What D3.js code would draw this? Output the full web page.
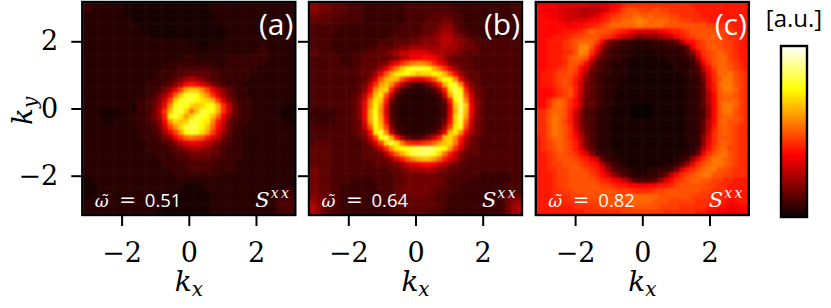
<!DOCTYPE html>
<html lang="en">
<head>
<meta charset="UTF-8">
<title>Sxx maps</title>
<script src="https://d3js.org/d3.v7.min.js"></script>
<style>
    body { margin: 0; background: #fff; overflow: hidden; }
    .axis text { font-family: "DejaVu Serif", serif; font-size: 27px; fill: #000; }
    .axis line { stroke: #000; stroke-width: 2px; }
    .math { font-family: "DejaVu Serif", serif; font-style: italic; }
    .plain { font-family: "DejaVu Serif", serif; }
    .sans { font-family: "Open Sans", sans-serif; }
</style>
</head>
<body>
<div id="chart"></div>
<script>
// heat levels, one base-36 digit per cell (0 = black, z = white)
const panelA = [
"3322222211 1111111111 1111222222 2222222222",
"3322222211 1111111111 1111222222 2222222222",
"2222222211 1111111111 1111122222 2222222222",
"2222222221 1111111111 1111122222 2222222222",
"2222222222 1111111111 1111112222 2222222222",
"2222222222 2111111111 1111111222 2222222222",
"2222222222 2221111111 1111111222 2222222222",
"2222222222 2222222222 1111112222 2222222222",
"2222222222 2222222222 2211222222 2223322222",
"2222222222 2222222222 2222222222 2233322222",
"2222222222 2222222223 3222222333 3333322222",
"2222222222 2222223333 3333322333 3333222222",
"2222222222 2222233344 4444333333 3332222222",
"2222222222 2222333445 5555443333 3322222222",
"2222222222 2223334568 9875443333 3222222222",
"2222222222 223334579d edb9754333 2222222222",
"2222222222 2233468cgm nnkgc97543 3222222222",
"2222222222 233468cinr srnkfb8643 3222222222",
"2222222222 33457agors sqpomgb753 3322222221",
"2222222221 33458ckqsr onoqrmfa64 3322222211",
"2221111222 33469fnsso jnssqmfa64 3322222111",
"2221111222 33468eqspl ossqnic854 3322222111",
"2222112222 33457ckono ssqpkea643 3222222211",
"2222222222 33346agkos tsqnid9643 3222222222",
"2222222222 233458cglq srolgb8533 2222222222",
"2222222222 2333467cfi jiheb96433 2222222222",
"2222222222 223334579b ccb9865433 2222222222",
"2222222222 2233334567 8887654333 2222222222",
"2222222222 2223333445 6666554333 2222222222",
"2222222222 2222333344 5555444333 2222222222",
"2222222222 2222233334 4444433332 2222222222",
"2222222222 2222223333 4444333332 2222222222",
"2222222222 2222222333 3333332222 2222222222",
"1122222222 2222222222 2222222222 2222222222",
"1112222222 2222222221 1122222222 2222222222",
"1112222222 2222222211 1112222222 2222222233",
"1122222222 2222222211 1111222222 2222223344",
"2222222222 2222221111 1111222222 2222223444",
"2222222222 2222111111 1111222222 2222223444",
"2222222222 2222111111 1111222222 2222223444"
];
const panelB = [
"7766555444 3333333344 4444444333 3333333344",
"7766555444 3333333344 4444444433 3333333344",
"6655554444 3333333344 4445555443 3333333344",
"5555444444 3333333344 4455566443 3333333334",
"4444443333 3333333444 4555677543 3333333334",
"4444433333 3333334444 4556788654 3333333334",
"4444333333 3333344445 5667899765 4433333334",
"4444333333 3334445556 6777899876 5444444444",
"4444333333 3445556778 8888898876 6544444444",
"5544433344 4555678aab bba9988765 5544444444",
"4444443344 555556 79ac cddca86555 4444444444",
"4444443344 55567acfhj kkifca7655 5444444444",
"4444444445 5568bfjnqr srqmjfb865 5444444444",
"4444444445 568chmpqrp nooqpmhc86 5544444444",
"4444444444 57bhmnmhec bcehnqqkc7 5544444444",
"4444444445 6aflnke964 3469emrskb 7544444444",
"4444444445 7cknoe8432 22348eptqe 8654444444",
"4444444456 9fnpha4322 22234alssh a654444444",
"4444444457 bjpne63222 222236eqtk b754444444",
"4444444457 ckqlc43222 222234bntn c754444444",
"3333344457 cmrkb43222 222234bmum c754444444",
"3333344457 cmrlc43222 222234cotl b754444444",
"3333344456 blrmd53222 222236dosi a654444444",
"4444444456 ahqng73322 222348gprg 9654444444",
"4444444456 7dpska5322 22347cnpkc 8654444444",
"4444444445 6agqsld854 457aenoke9 6544444444",
"4555444444 57bgospjfe efgilnojd8 6544444444",
"5555444444 557aflpqrs ttutrqlfa7 5544444444",
"5555444444 55569eimps tutsojea75 5544444444",
"5555444444 555568behk mnnlieb965 4444444444",
"5555444444 4455566 8ab cddca97654 4444444444",
"6655444444 4444455678 8898765544 4444444444",
"6655444444 4444445566 6666555444 4433333344",
"6655444433 3344445566 6666654444 3333333344",
"6655443333 3334445566 6666554433 3333333444",
"6655443333 3334445666 6665544333 3333333444",
"7765443333 3334445556 6655443333 3333334566",
"8765443333 3333445555 5555443333 3333334678",
"9865443333 3333344555 5555443333 3333334689",
"9865443333 3333344445 5544433333 3333334689"
];
const panelC = [
"ccccbbbbbb aabbcdefff fffffffffe eeeeeeeeee",
"dcccbbaa99 99abdeghhg gghggfffff eeeeeeeeee",
"ddccbbaa99 abdefghhii hihhhggfff feeeeeeeee",
"ddddcbbbbc ddefhhiijk jiiiihhggf ffeeeeeeee",
"ddddddcdde efghiiiiij iiiihhhhhh hhggfffeee",
"dddddeeefg ihhhgfedcb bbbcdeefgh hhhhgggfee",
"dddeeefggh hhgfeca986 77789adefg hhhiggffee",
"ddeeefghii igc7543322 22334459dd fghhhggfee",
"ddeeefghkk hd85433222 222233336c fghihggfee",
"ddeeeffhkj fb64332221 1122222347 cfghihgfee",
"ddeeefhiih c754332211 1111222234 9eghiigfee",
"ddeeefhhgd 8543222111 1111122223 6cfhiihgfe",
"ddeefghgda 6543222111 1111112223 49dgiihgfe",
"deefgghfc8 5433222111 1111111223 47cfiijhgf",
"deefghgeb7 5432221111 1111111122 36bfhjjhgf",
"deefghgea6 5432221111 1111111122 35beijjhgf",
"dddefghea6 5432211111 1111111122 35aehjjigf",
"dddefghe96 5432211111 1111111122 359dhiihgf",
"ddfhihfd95 5432211111 1111111122 359dhiiigf",
"ddfiihfd95 5432211100 0011111122 358dhjjigf",
"ffhiiheb74 4322111100 0011111122 348dhjjhgf",
"ffhjihea74 4322111100 0011111122 348dhiihgf",
"ffhjigea74 4322111111 1111111122 359dhihhgf",
"ffhjihfb75 4322111111 1111111122 359ehihgff",
"ffhjihfc85 4322111111 1111111122 36afhihgff",
"efhiihfd96 4322111111 1111111122 37bfhhhgff",
"efghihgea6 4322111111 1111111122 37cfhihgff",
"efghihgeb7 5322111111 1111111122 49dgiiggff",
"eefghhgfdb 7432211111 1111111223 6cfhijhgff",
"eefghhhgfe ca53221111 1111112348 cfhjjihgff",
"eefgghhhgf ed96432111 1111223 58c fhijjihgff",
"eeffgghhhg fec8543221 122334 6bef hijjhhgfff",
"eeefgghhhh gfdb864322 2334 6adfgh ijjhhggfff",
"eeefgghhhh hgfedca854 4458bdfghi ihhggffeee",
"eeefgghhhh hhggfeeddc cddeefghhh hhggffeeee",
"eeeffgghhh hhhhhgggff ffgghhhhhh hggfffeeee",
"eeefffgggh hhhhhhhiii iiihhhhhhg ggfffeeeee",
"eeeeefffgg gghhhhhhii iihhhggggg ffffeeddee",
"eeeeeeefff fggggggghh hhhggggfff ffeeddccdd",
"eeeeeeeeef ffffffgggg ggggffffff eeddccbccd"
];
const panelNames = ["(a)", "(b)", "(c)"];
const omegaValues = ["0.51", "0.64", "0.82"];
const kTicks = [-2, 0, 2];
const colorStops = [0, 0.365, 0.746, 1];
const colorNames = ["#0a0000", "#ff0000", "#ffff00", "#ffffff"];

const width = 831, height = 308;
const panelLefts = [82.3, 309, 535.8];
const panelSize = 213, panelTop = 2;
const kExtent = 3.17;

const heat = d3.scaleLinear().domain(colorStops).range(colorNames).clamp(true);
// digits are a bit finer at the dark end so the background has no hard contours
const toValue = t => t < 0.25 ? t * (0.7 + 1.2 * t) : t;
const parseRow = row => row.replace(/ /g, "").split("").map(c => toValue(parseInt(c, 36) / 35));

const svg = d3.select("#chart").append("svg")
    .attr("width", width).attr("height", height)
    .style("display", "block");

const defs = svg.append("defs");
const blur = defs.append("filter").attr("id", "soft")
    .attr("x", "-5%").attr("y", "-5%").attr("width", "110%").attr("height", "110%")
    .attr("color-interpolation-filters", "sRGB");
blur.append("feGaussianBlur").attr("stdDeviation", 1.2);

[panelA, panelB, panelC].forEach(function(rows, p) {
    const g = svg.append("g").attr("transform", `translate(${panelLefts[p]},${panelTop})`);
    const grid = rows.map(parseRow);

    const x = d3.scaleLinear().domain([-kExtent, kExtent]).range([0, panelSize]);
    const y = d3.scaleLinear().domain([-kExtent, kExtent]).range([panelSize, 0]);
    const col = d3.scaleBand().domain(d3.range(40)).range([0, panelSize]);
    const row = d3.scaleBand().domain(d3.range(40)).range([0, panelSize]);

    defs.append("clipPath").attr("id", "clip" + p)
        .append("rect").attr("width", panelSize).attr("height", panelSize);

    const cells = g.append("g").attr("clip-path", `url(#clip${p})`)
        .append("g").attr("filter", "url(#soft)");
    grid.forEach(function(vals, r) {
        cells.selectAll(null).data(vals.slice(0, 40)).enter().append("rect")
            .attr("x", (d, c) => col(c))
            .attr("y", row(r))
            .attr("width", col.bandwidth() + 0.5)
            .attr("height", row.bandwidth() + 0.5)
            .attr("fill", d => heat(d));
    });

    // axes
    g.append("g").attr("class", "axis")
        .attr("transform", `translate(0,${panelSize})`)
        .call(d3.axisBottom(x).tickValues(kTicks).tickSize(11).tickPadding(17).tickFormat(d3.format("d")))
        .call(a => a.select(".domain").remove());
    g.append("g").attr("class", "axis")
        .call(d3.axisLeft(y).tickValues(kTicks).tickSize(11).tickPadding(13)
            .tickFormat(p === 0 ? d3.format("d") : ""))
        .call(a => a.select(".domain").remove());

    g.append("rect")
        .attr("width", panelSize).attr("height", panelSize)
        .attr("fill", "none").attr("stroke", "#000").attr("stroke-width", 2.4);

    // panel letter
    g.append("text").attr("class", "sans")
        .attr("x", panelSize - 2).attr("y", 33)
        .attr("text-anchor", "end")
        .attr("fill", "#fff").attr("font-size", 30)
        .text(panelNames[p]);

    // omega label
    const om = g.append("text").attr("y", 205).attr("fill", "#fff");
    om.append("tspan").attr("class", "math").attr("x", 12.5).attr("font-size", 17).text("ω\u0303");
    om.append("tspan").attr("class", "plain").attr("x", 37).attr("font-size", 20).text("=");
    om.append("tspan").attr("class", "sans").attr("x", 62.5).attr("font-size", 18.5).text(omegaValues[p]);

    // S^xx label
    const s = g.append("text").attr("class", "math")
        .attr("x", panelSize - 40).attr("y", 205).attr("fill", "#fff");
    s.append("tspan").attr("font-size", 21).text("S");
    s.append("tspan").attr("font-size", 14).attr("dy", -9).attr("dx", 1).attr("letter-spacing", 2.5).text("xx");

    // k_x label
    const kx = g.append("text").attr("class", "math")
        .attr("x", panelSize / 2).attr("y", 289).attr("text-anchor", "middle");
    kx.append("tspan").attr("font-size", 28).text("k");
    kx.append("tspan").attr("font-size", 20).attr("dy", 5).text("x");
});

// k_y label
const ky = svg.append("text").attr("class", "math")
    .attr("transform", "translate(32,125) rotate(-90)");
ky.append("tspan").attr("font-size", 28).text("k");
ky.append("tspan").attr("font-size", 20).attr("dy", 5).text("y");

// colour bar
const barLeft = 781, barTop = 46, barWidth = 26, barHeight = 171;
const barScale = d3.scaleLinear().domain([0, 1]).range([barTop + barHeight, barTop]);
const barSteps = d3.range(0, 1, 1 / 171);
svg.append("g").selectAll("rect").data(barSteps).enter().append("rect")
    .attr("x", barLeft)
    .attr("y", d => barScale(d) - barHeight / 171)
    .attr("width", barWidth)
    .attr("height", barHeight / 171 + 0.5)
    .attr("fill", d => heat(d));
svg.append("rect")
    .attr("x", barLeft).attr("y", barTop)
    .attr("width", barWidth).attr("height", barHeight)
    .attr("fill", "none").attr("stroke", "#000").attr("stroke-width", 2.4);
svg.append("text").attr("class", "sans")
    .attr("x", 794).attr("y", 27).attr("text-anchor", "middle")
    .attr("font-size", 24).attr("fill", "#000")
    .text("[a.u.]");
</script>
</body>
</html>
